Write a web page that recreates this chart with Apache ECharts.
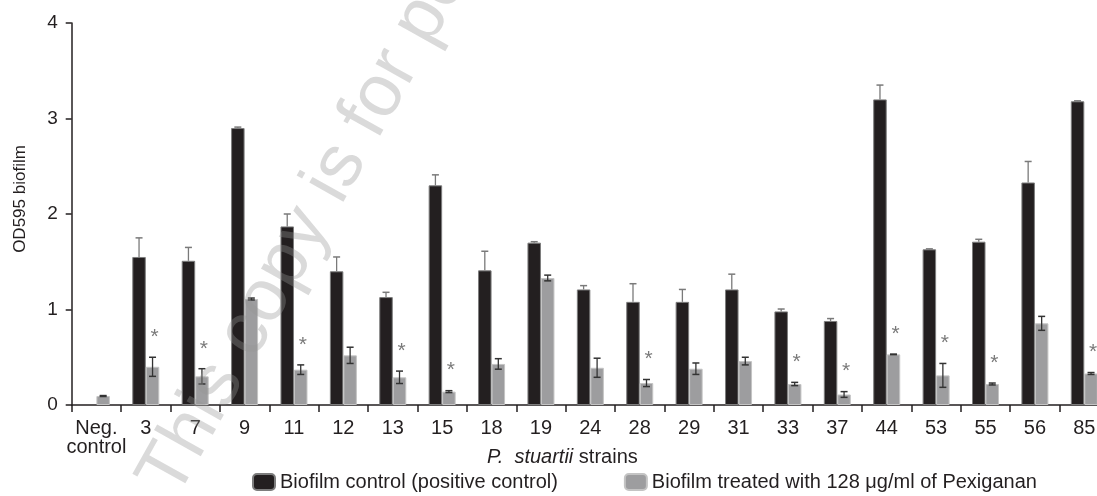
<!DOCTYPE html>
<html>
<head>
<meta charset="utf-8">
<script src="https://cdn.jsdelivr.net/npm/echarts@6/dist/echarts.min.js"></script>
<style>
html,body{margin:0;padding:0;background:#fff;}
#chart{width:1097px;height:496px;}
</style>
</head>
<body>
<div id="chart"></div>
<script>
const categories = ['Neg.\ncontrol','3','7','9','11','12','13','15','18','19','24','28','29','31','33','37','44','53','55','56','85'];
const controlValues = [null,1.55,1.51,2.90,1.87,1.40,1.13,2.30,1.41,1.70,1.21,1.08,1.08,1.21,0.98,0.88,3.20,1.63,1.71,2.33,3.18];
const controlErrors = [0,0.20,0.14,0.01,0.13,0.15,0.05,0.11,0.20,0.01,0.04,0.19,0.13,0.16,0.025,0.025,0.15,0.005,0.025,0.22,0.005];
const treatedValues = [0.094,0.40,0.30,1.11,0.37,0.52,0.29,0.14,0.43,1.33,0.39,0.23,0.38,0.46,0.22,0.11,0.53,0.31,0.22,0.855,0.33];
const treatedErrors = [0.005,0.10,0.08,0.01,0.05,0.085,0.065,0.01,0.055,0.03,0.10,0.037,0.06,0.04,0.017,0.03,0.003,0.125,0.01,0.073,0.01];
const significant = [0,1,1,0,1,0,1,1,0,0,0,1,0,0,1,1,1,1,1,0,1];
const yTicks = [0,1,2,3,4];
const seriesNames = ['Biofilm control (positive control)','Biofilm treated with 128 μg/ml of Pexiganan'];

const FONT = 'Liberation Sans, Arial, Helvetica, sans-serif';
const BW = 13.5;
const DARK = '#231f20';

function errRenderer(side, both, lineColor, withStar) {
  return function (params, api) {
    const i = api.value(0), v = api.value(1), e = api.value(2);
    const base = api.coord([i, v]);
    const hi = api.coord([i, v + e]);
    const lo = api.coord([i, v - e]);
    const x = base[0] + side * BW / 2;
    const cap = 3.5;
    const children = [];
    const yStart = both ? lo[1] : base[1];
    children.push({type:'line', shape:{x1:x, y1:yStart, x2:x, y2:hi[1]}, style:{stroke:lineColor, lineWidth:1.3}});
    children.push({type:'line', shape:{x1:x-cap, y1:hi[1], x2:x+cap, y2:hi[1]}, style:{stroke:lineColor, lineWidth:1.5}});
    if (both) {
      children.push({type:'line', shape:{x1:x-cap, y1:lo[1], x2:x+cap, y2:lo[1]}, style:{stroke:lineColor, lineWidth:1.5}});
    }
    if (withStar && significant[i]) {
      children.push({type:'text', x:x+2, y:hi[1]-20, style:{text:'*', fill:'#7a7a7a', font:'21px ' + FONT, align:'center', verticalAlign:'middle'}});
    }
    return {type:'group', children};
  };
}

const controlErrData = [];
controlValues.forEach((v, i) => { if (v != null) controlErrData.push([i, v, controlErrors[i]]); });
const treatedErrData = treatedValues.map((v, i) => [i, v, treatedErrors[i]]);

const chart = echarts.init(document.getElementById('chart'), null, {renderer:'canvas'});
chart.setOption({
  animation:false,
  backgroundColor:'#fff',
  textStyle:{fontFamily:FONT},
  grid:{left:71.7, right:-12, top:23, bottom:91, containLabel:false, outerBoundsMode:'none'},
  legend:{
    left:252, top:472, padding:0, itemWidth:22, itemHeight:16, itemGap:66,
    textStyle:{fontSize:20, color:DARK, fontFamily:FONT},
    data:seriesNames
  },
  xAxis:{
    type:'category', data:categories,
    axisLine:{lineStyle:{color:DARK, width:1.5}},
    axisTick:{show:true, length:7, lineStyle:{color:DARK, width:1.5}},
    axisLabel:{fontSize:20, color:DARK, margin:14, lineHeight:19, interval:0, fontFamily:FONT},
    name:'{i|P.  stuartii} strains', nameLocation:'middle', nameGap:42, nameMoveOverlap:false,
    nameTextStyle:{fontSize:20, color:DARK, padding:[0,56,0,0], fontFamily:FONT,
      rich:{i:{fontStyle:'italic', fontSize:20, color:DARK, fontFamily:FONT}}}
  },
  yAxis:{
    type:'value', min:0, max:4, interval:1,
    axisLine:{show:true, lineStyle:{color:DARK, width:1.5}},
    axisTick:{show:true, length:6, lineStyle:{color:DARK, width:1.5}},
    axisLabel:{fontSize:19, color:DARK, margin:14, fontFamily:FONT,
      formatter:function(v){ return yTicks.indexOf(v) >= 0 ? String(v) : ''; }},
    splitLine:{show:false},
    name:'OD595 biofilm', nameLocation:'middle', nameGap:43, nameRotate:90, nameMoveOverlap:false,
    nameTextStyle:{fontSize:17, color:DARK, fontFamily:FONT, padding:[0,0,0,30]}
  },
  series:[
    {name:seriesNames[0], type:'bar', data:controlValues, barWidth:BW, barGap:'0%',
     itemStyle:{color:DARK, borderColor:'#7d7d7d', borderWidth:1}},
    {name:seriesNames[1], type:'bar', data:treatedValues, barWidth:BW, barGap:'0%',
     itemStyle:{color:'#9d9d9f', borderColor:'#c4c4c4', borderWidth:1}},
    {type:'custom', name:'err1', renderItem:errRenderer(-1, false, '#7a7a7a', false),
     encode:{x:0, y:1}, data:controlErrData, z:3, silent:true},
    {type:'custom', name:'err2', renderItem:errRenderer(1, true, '#333', true),
     encode:{x:0, y:1}, data:treatedErrData, z:3, silent:true}
  ],
  graphic:[
    {type:'text', x:126, y:472, rotation:1.06, z:100, silent:true,
     style:{text:'This copy is for personal use only', font:'74px ' + FONT, fill:'rgba(150,150,150,0.35)'}}
  ]
});
</script>
</body>
</html>
